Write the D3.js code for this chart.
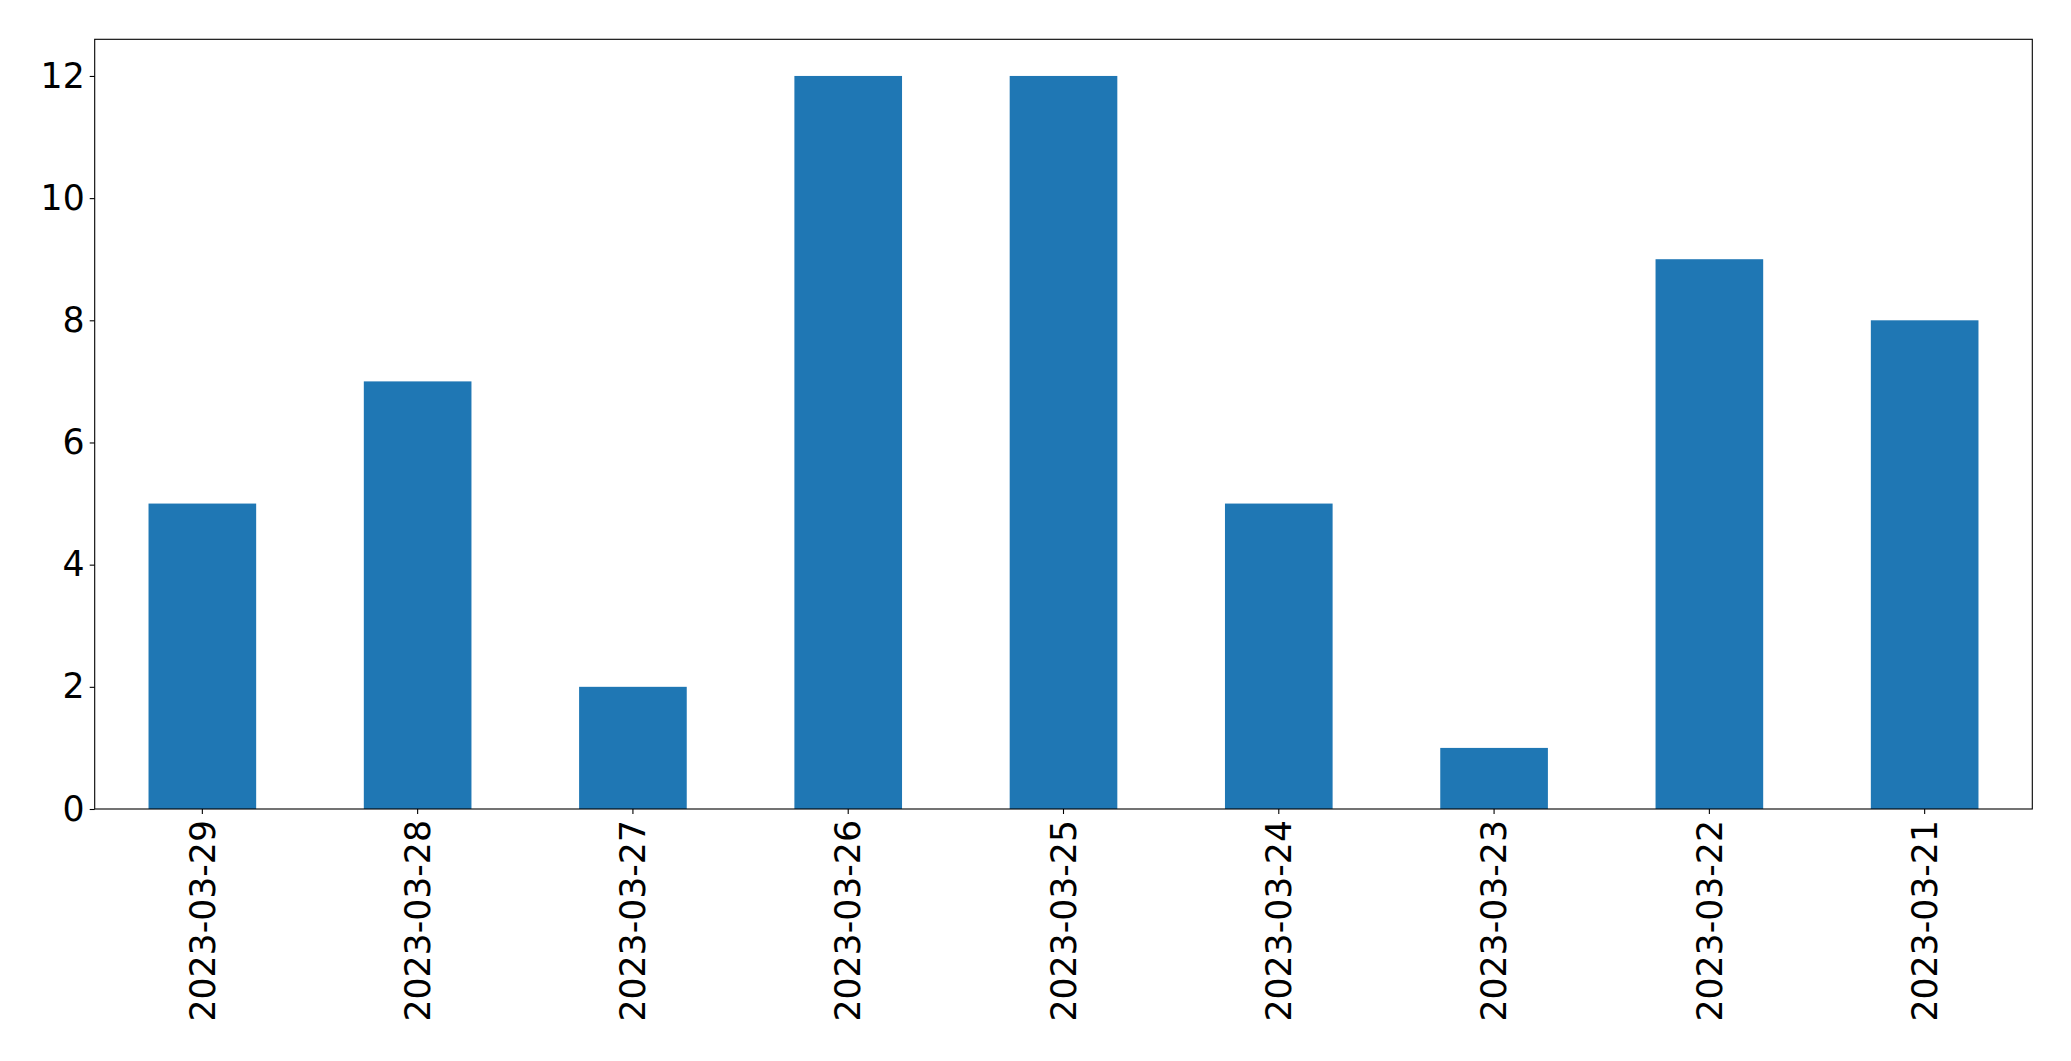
<!DOCTYPE html>
<html>
<head>
<meta charset="utf-8">
<script src="https://cdn.jsdelivr.net/npm/d3@7"></script>
<style>
  html, body { margin: 0; padding: 0; background: #fff; }
  svg { display: block; }
</style>
</head>
<body>
<svg id="chart" width="2071" height="1061"></svg>
<script>
const categories = ["2023-03-29", "2023-03-28", "2023-03-27", "2023-03-26", "2023-03-25", "2023-03-24", "2023-03-23", "2023-03-22", "2023-03-21"];
const values = [5, 7, 2, 12, 12, 5, 1, 9, 8];
const yTicks = [0, 2, 4, 6, 8, 10, 12];

const svg = d3.select("#chart");
const margin = { left: 94.7, right: 2071 - 2032.3, top: 39.3, bottom: 1061 - 809 };
const W = 2071, H = 1061;
const x0 = margin.left, x1 = W - margin.right, y0 = H - margin.bottom, y1 = margin.top;

const x = d3.scaleBand().domain(categories).range([x0, x1]).paddingInner(0.5).paddingOuter(0.25);
const y = d3.scaleLinear().domain([0, 12.6]).range([y0, y1]);

const font = "'DejaVu Sans', sans-serif";
const fs = 34.7;

svg.append("g").selectAll("rect").data(values).join("rect")
  .attr("x", (d, i) => x(categories[i]))
  .attr("width", x.bandwidth())
  .attr("y", d => y(d))
  .attr("height", d => y(0) - y(d))
  .attr("fill", "#1f77b4");

// Y axis
const yAxis = svg.append("g").attr("transform", `translate(${x0},0)`)
  .call(d3.axisLeft(y).tickValues(yTicks).tickFormat(d3.format("d")).tickSize(5).tickPadding(5));
yAxis.select(".domain").remove();
yAxis.selectAll("line").attr("stroke", "#000").attr("stroke-width", 1.1);
yAxis.selectAll("text").attr("font-family", font).attr("font-size", fs).attr("fill", "#000");

// X axis
const xAxis = svg.append("g").attr("transform", `translate(0,${y0})`)
  .call(d3.axisBottom(x).tickSize(5).tickPadding(0));
xAxis.select(".domain").remove();
xAxis.selectAll("line").attr("stroke", "#000").attr("stroke-width", 1.1);
xAxis.selectAll("text")
  .attr("font-family", font).attr("font-size", fs).attr("fill", "#000")
  .attr("transform", "translate(0,11) rotate(-90)")
  .attr("text-anchor", "end")
  .attr("dy", "0.35em")
  .attr("x", 0).attr("y", 0);

// Frame
svg.append("rect")
  .attr("x", x0).attr("y", y1).attr("width", x1 - x0).attr("height", y0 - y1)
  .attr("fill", "none").attr("stroke", "#000").attr("stroke-width", 1.1);
</script>
</body>
</html>
